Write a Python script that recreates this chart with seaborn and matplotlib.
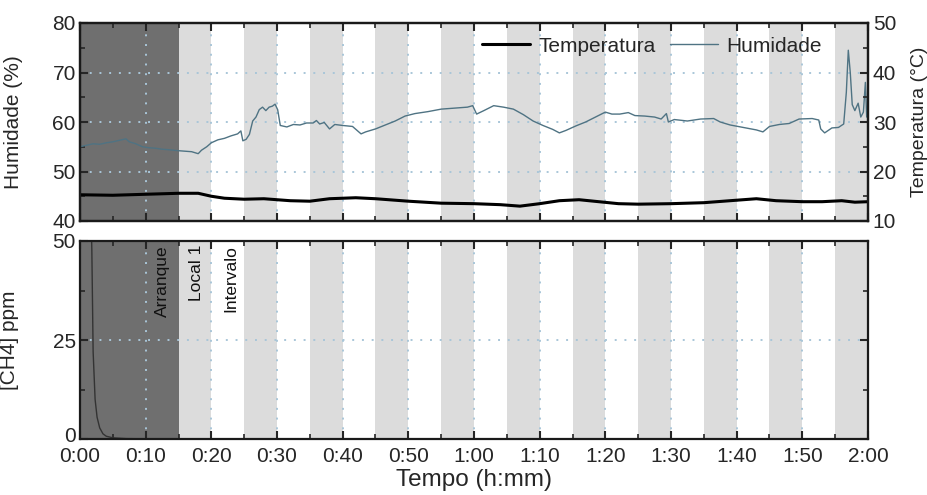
import matplotlib
matplotlib.use("Agg")
import matplotlib.pyplot as plt
import seaborn as sns
import pandas as pd
from matplotlib.ticker import MultipleLocator, FuncFormatter
from matplotlib.lines import Line2D
from matplotlib.transforms import ScaledTranslation

# ---------------- data ----------------
hum_t = [0, 1, 2, 3, 4, 5, 6, 7, 7.5, 8.5, 9.5, 10.5, 11.5, 12.5, 13.5, 15, 16, 17, 18, 18.5,
         19.3, 20, 21, 22, 23, 24, 24.5, 24.8, 25.3, 25.8, 26.3, 26.8, 27.3, 27.8, 28.3, 28.8,
         29.3, 29.7, 30.1, 30.5, 31.5, 32.5, 33.5, 34.5, 35.5, 36, 36.5, 37.2, 38, 38.8, 40,
         41.5, 42.8, 43.5, 45, 46.5, 48, 49.5, 51, 53, 55, 57, 59, 59.8, 60.4, 61.5, 63, 64.5,
         66, 67.5, 69, 70.5, 72, 73, 74, 75.5, 77, 78.5, 80, 81, 82.2, 83.5, 84.5, 86, 87.5,
         88.5, 89.3, 89.6, 90.5, 92.5, 94.5, 96.5, 97.5, 99, 101, 103, 104, 105, 106.5, 108,
         109.5, 111.5, 112.5, 112.8, 113.4, 114.5, 115.5, 116.3, 116.7, 117.0, 117.3, 117.6,
         118.0, 118.5, 118.9, 119.3, 119.6, 119.8, 120]
hum_v = [55.0, 55.3, 55.6, 55.5, 55.8, 56.0, 56.3, 56.6, 56.0, 55.6, 55.0, 54.8, 54.7, 54.5,
         54.4, 54.2, 54.1, 54.0, 53.6, 54.3, 55.0, 55.8, 56.4, 56.7, 57.2, 57.6, 58.2, 56.2,
         56.5, 57.5, 60.2, 61.0, 62.5, 63.0, 62.3, 63.0, 63.2, 63.6, 62.5, 59.3, 59.0, 59.5,
         59.4, 59.8, 59.8, 60.3, 59.6, 59.9, 58.6, 59.5, 59.3, 59.1, 57.6, 58.0, 58.6, 59.4,
         60.2, 61.2, 61.7, 62.1, 62.6, 62.8, 63.0, 63.3, 61.6, 62.3, 63.3, 63.0, 62.6, 61.5,
         60.2, 59.3, 58.5, 57.8, 58.3, 59.2, 60.0, 61.0, 62.0, 61.6, 61.6, 61.9, 61.3, 61.2,
         61.0, 60.6, 61.7, 60.0, 60.5, 60.2, 60.6, 60.7, 60.0, 59.4, 58.9, 58.4, 58.0, 59.1,
         59.5, 59.7, 60.6, 60.7, 60.4, 58.6, 57.8, 58.8, 58.9, 59.6, 66.0, 74.5, 70.0, 63.5,
         62.3, 63.8, 61.0, 62.0, 68.0, 61.0, 61.5]

temp_t = [0, 5, 10, 15, 18, 20, 22, 25, 28, 32, 35, 38, 42, 45, 50, 55, 60, 64, 67, 70, 73,
          76, 79, 82, 85, 90, 95, 100, 103, 106, 110, 113, 116, 118, 120]
temp_v = [15.3, 15.2, 15.4, 15.6, 15.6, 15.0, 14.6, 14.4, 14.5, 14.1, 14.0, 14.5, 14.7, 14.5,
          14.0, 13.6, 13.5, 13.3, 13.0, 13.5, 14.1, 14.3, 13.9, 13.5, 13.4, 13.5, 13.7, 14.2,
          14.5, 14.1, 13.9, 13.9, 14.1, 13.8, 13.9]

ch4_t = [0, 1.0, 1.5, 1.8, 2.0, 2.3, 2.6, 3.0, 3.5, 4.0, 5.0, 7.0, 10, 20, 60, 120]
ch4_v = [150, 110, 70, 48, 22, 10, 5.5, 2.8, 1.3, 0.7, 0.3, 0.1, 0.05, 0, 0, 0]

start_phase = (0, 15)                       # Arranque
local_phases = [(15 + 10 * k, 20 + 10 * k) for k in range(11)]
phase_labels = ["Arranque", "Local 1", "Intervalo"]
phase_label_x = [12.6, 17.7, 23.0]

hum_df = pd.DataFrame({"t": hum_t, "v": hum_v})
temp_df = pd.DataFrame({"t": temp_t, "v": temp_v})
ch4_df = pd.DataFrame({"t": ch4_t, "v": ch4_v})

# ---------------- style ----------------
sns.set_theme(style="white")
plt.rcParams["font.family"] = ["Liberation Sans", "DejaVu Sans"]
plt.rcParams["axes.edgecolor"] = "#1a1a1a"
plt.rcParams["axes.linewidth"] = 1.6

fig = plt.figure(figsize=(9.28, 4.95), dpi=100)
L, R = 80 / 928, 868 / 928
ax = fig.add_axes([L, 1 - 221 / 495, R - L, (221 - 23) / 495])
axb = fig.add_axes([L, 1 - 439 / 495, R - L, (439 - 241) / 495], sharex=ax)
ax2 = ax.twinx()

dark = "#6f6f6f"
light = "#dcdcdc"
grid_c = "#a9c6d8"
hum_c = "#4f7383"

for a in (ax, axb):
    a.axvspan(*start_phase, color=dark, lw=0, zorder=0)
    for s, e in local_phases:
        a.axvspan(s, e, color=light, lw=0, zorder=0)
    a.grid(True, which="major", linestyle=(0, (1, 4)), color=grid_c, lw=1.4, zorder=1)
    a.set_axisbelow(False)
    for sp in a.spines.values():
        sp.set_zorder(10)
for sp in ax2.spines.values():
    sp.set_zorder(10)

sns.lineplot(data=hum_df, x="t", y="v", ax=ax, color=hum_c, lw=1.0, zorder=3)
sns.lineplot(data=temp_df, x="t", y="v", ax=ax2, color="black", lw=2.2, zorder=3)
sns.lineplot(data=ch4_df, x="t", y="v", ax=axb, color="#333333", lw=1.0, zorder=3)

ax.set_xlim(0, 120)
ax.set_ylim(40, 80)
ax2.set_ylim(10, 50)
axb.set_ylim(0, 50)

fmt = FuncFormatter(lambda m, p: f"{int(m) // 60}:{int(m) % 60:02d}")
ax.xaxis.set_major_locator(MultipleLocator(10))
ax.xaxis.set_minor_locator(MultipleLocator(5))
axb.xaxis.set_major_formatter(fmt)
ax.yaxis.set_major_locator(MultipleLocator(10))
ax.yaxis.set_minor_locator(MultipleLocator(5))
ax2.yaxis.set_major_locator(MultipleLocator(10))
ax2.yaxis.set_minor_locator(MultipleLocator(5))
axb.yaxis.set_major_locator(MultipleLocator(25))
axb.yaxis.set_minor_locator(MultipleLocator(12.5))

fs = 15
for a in (ax, axb):
    a.tick_params(axis="x", which="both", direction="in", top=True, bottom=True)
    a.tick_params(which="major", length=6, width=1.5, labelsize=fs, pad=3)
    a.tick_params(which="minor", length=3.5, width=1.2)
axb.tick_params(axis="x", pad=6)
ax.tick_params(axis="x", labelbottom=False)
ax.tick_params(axis="y", which="both", direction="in", left=True, right=False)
axb.tick_params(axis="y", which="both", direction="in", left=True, right=True)
ax2.tick_params(axis="y", which="both", direction="in", right=True, labelsize=fs)
ax2.tick_params(which="major", length=6, width=1.5)
ax2.tick_params(which="minor", length=3.5, width=1.2)

# lift the "0" label of the CH4 axis slightly, as in the reference
fig.canvas.draw()
for t in axb.yaxis.get_major_ticks():
    if abs(t.get_loc()) < 1e-9:
        t.label1.set_transform(t.label1.get_transform() +
                               ScaledTranslation(0, 3.5 / 72, fig.dpi_scale_trans))

ax.set_xlabel("")
axb.set_xlabel("Tempo (h:mm)", fontsize=17.5, labelpad=2)
ax.set_ylabel("Humidade (%)", fontsize=15)
ax2.set_ylabel("Temperatura (°C)", fontsize=14)
axb.set_ylabel("[CH4] ppm", fontsize=15)
ax.yaxis.set_label_coords(-0.072, 0.5)
axb.yaxis.set_label_coords(-0.077, 0.5)
ax2.yaxis.set_label_coords(1.054, 0.5)

for lbl, x in zip(phase_labels, phase_label_x):
    axb.text(x, 49, lbl, rotation=90, ha="center", va="top", fontsize=12.5,
             color="#111111", zorder=4)

handles = [Line2D([], [], color="black", lw=2.2), Line2D([], [], color=hum_c, lw=1.0)]
leg = ax2.legend(handles, ["Temperatura", "Humidade"], ncol=2, frameon=False,
                 fontsize=15, handlelength=2.3, handletextpad=0.4, columnspacing=0.7,
                 loc="center", bbox_to_anchor=(652 / 928, 1 - 46 / 495),
                 bbox_transform=fig.transFigure)

fig.savefig("out.png", dpi=100)
